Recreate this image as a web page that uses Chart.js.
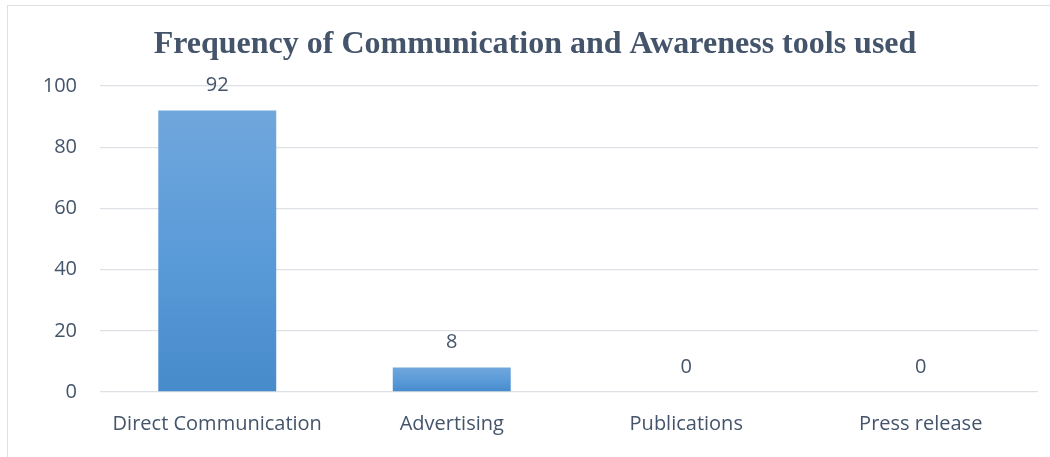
<!DOCTYPE html>
<html>
<head>
<meta charset="utf-8">
<script src="https://cdn.jsdelivr.net/npm/chart.js@4"></script>
<style>
  html, body { margin: 0; padding: 0; background: #fff; overflow: hidden; }
  #marco {
    position: absolute; left: 7px; top: 5px;
    width: 1054px; height: 452px;
    border-left: 1px solid #dde1e6; border-top: 1px solid #dde1e6;
  }
  #grafica { display: block; }
</style>
</head>
<body>
<div id="marco"><canvas id="grafica" width="1054" height="452"></canvas></div>
<script>
// Datos del gráfico
const categorias = ["Direct Communication", "Advertising", "Publications", "Press release"];
const frecuencias = [92, 8, 0, 0];
const marcasY = [0, 20, 40, 60, 80, 100];

const colorTexto = "#44546a";
const fuenteEjes = { family: "'Open Sans', sans-serif", size: 20 };

// Degradado vertical para cada barra, de su tope hasta el cero
function degradado(context) {
    const chart = context.chart;
    if (!chart.chartArea) return "#5b9bd5";
    const y = chart.scales.y;
    const tope = y.getPixelForValue(context.raw || 0);
    const base = y.getPixelForValue(0);
    if (base - tope < 1) return "#5b9bd5";
    const g = chart.ctx.createLinearGradient(0, tope, 0, base);
    g.addColorStop(0, "#70a7dc");
    g.addColorStop(0.5, "#5b9bd9");
    g.addColorStop(1, "#478bcb");
    return g;
}

// Etiquetas con el valor encima de cada barra
const etiquetasValor = {
    id: "etiquetasValor",
    afterDatasetsDraw(chart) {
        const ctx = chart.ctx;
        const meta = chart.getDatasetMeta(0);
        ctx.save();
        ctx.fillStyle = colorTexto;
        ctx.font = `${fuenteEjes.size}px ${fuenteEjes.family}`;
        ctx.textAlign = "center";
        ctx.textBaseline = "middle";
        meta.data.forEach((barra, i) => {
            ctx.fillText(String(frecuencias[i]), barra.x, barra.y - 25);
        });
        ctx.restore();
    }
};

const ctx = document.getElementById("grafica").getContext("2d");
new Chart(ctx, {
    type: "bar",
    data: {
        labels: categorias,
        datasets: [{
            data: frecuencias,
            backgroundColor: degradado,
            borderWidth: 0,
            barPercentage: 0.503,
            categoryPercentage: 1
        }]
    },
    options: {
        responsive: false,
        animation: false,
        layout: { padding: { left: 24, right: 24, top: 0, bottom: 0 } },
        plugins: {
            legend: { display: false },
            tooltip: { enabled: false },
            title: {
                display: true,
                text: "Frequency of Communication and Awareness tools used",
                color: colorTexto,
                font: { family: "'Liberation Serif', 'Times New Roman', serif", size: 32, weight: "bold", lineHeight: 1 },
                padding: { top: 23, bottom: 25 }
            }
        },
        scales: {
            x: {
                grid: { display: false, drawTicks: false },
                border: { display: false },
                ticks: { color: colorTexto, font: fuenteEjes, padding: 20, maxRotation: 0 },
                afterFit(scale) { scale.height = 66; }
            },
            y: {
                min: 0,
                max: 100,
                afterBuildTicks(scale) {
                    scale.ticks = marcasY.map(v => ({ value: v }));
                },
                grid: { color: "#dde1e6", lineWidth: 1.3, drawTicks: false },
                border: { display: false },
                ticks: { color: colorTexto, font: fuenteEjes, padding: 23 },
                afterFit(scale) { scale.width = 68; }
            }
        }
    },
    plugins: [etiquetasValor]
});
</script>
</body>
</html>
